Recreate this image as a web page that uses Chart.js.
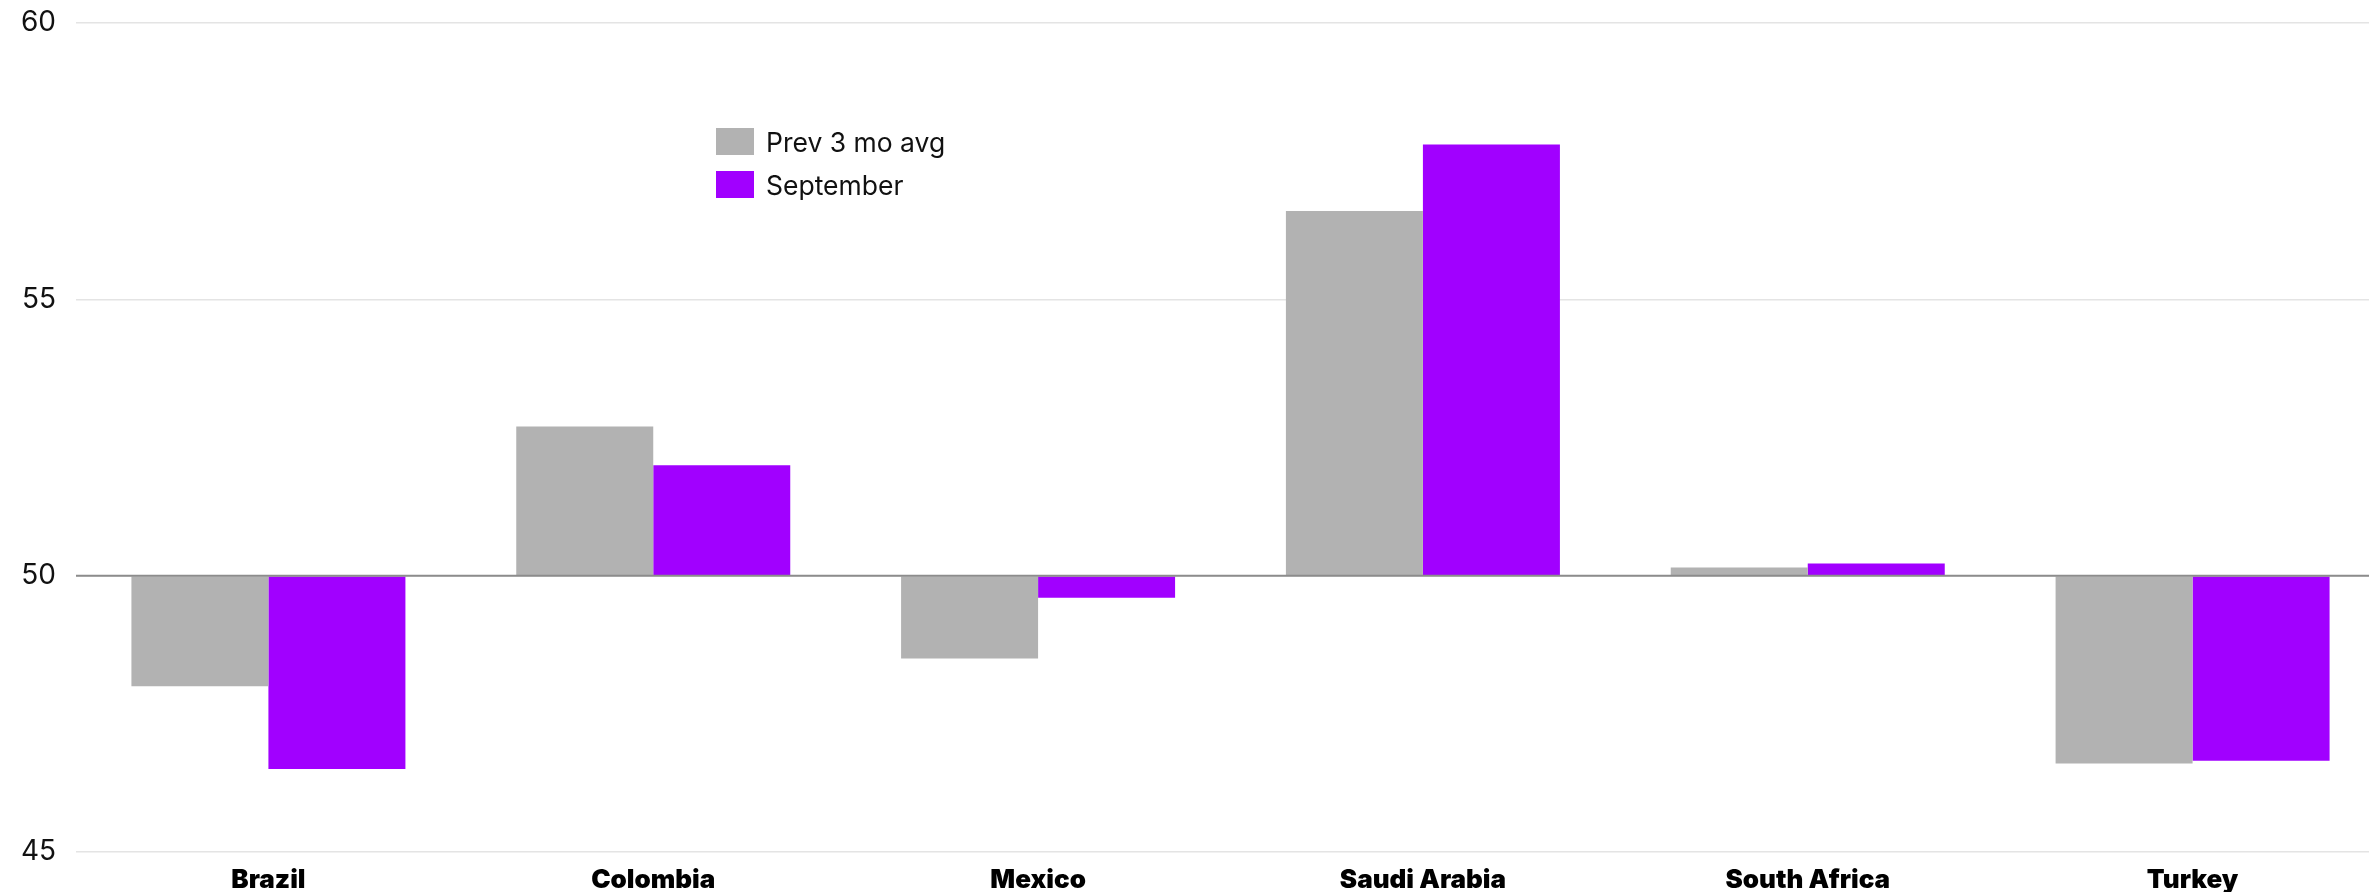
<!DOCTYPE html>
<html>
<head>
<meta charset="utf-8">
<script src="https://cdn.jsdelivr.net/npm/chart.js@4.4.1/dist/chart.umd.min.js"></script>
<style>
  html, body { margin: 0; padding: 0; background: #ffffff; overflow: hidden; }
  #wrap { position: absolute; left: 0; top: 0; width: 2385px; height: 892px; }
  #legend { position: absolute; left: 716px; top: 128px; font-family: Inter, "Noto Sans", sans-serif; font-size: 26.5px; color: #111; }
  .row { display: flex; align-items: center; height: 27px; margin-bottom: 16px; }
  .sw { width: 38px; height: 27px; margin-right: 12px; }
</style>
</head>
<body>
<div id="wrap"><canvas id="c" width="2385" height="892"></canvas></div>
<div id="legend"></div>
<script>
// PMI readings by country, 50 = no change
const countries = ["Brazil", "Colombia", "Mexico", "Saudi Arabia", "South Africa", "Turkey"];
const prev3MoAvg = [48.0, 52.7, 48.5, 56.6, 50.15, 46.6];
const september = [46.5, 52.0, 49.6, 57.8, 50.22, 46.65];
const seriesNames = ["Prev 3 mo avg", "September"];
const seriesColors = ["#b2b2b2", "#a100ff"];
const yTicks = [45, 50, 55, 60];
const neutral = 50;

// dark reference line at the neutral value, drawn over the bars
const neutralLine = {
  id: "neutralLine",
  afterDatasetsDraw(chart) {
    const y = chart.scales.y.getPixelForValue(neutral);
    const { left, right } = chart.chartArea;
    const ctx = chart.ctx;
    ctx.save();
    ctx.strokeStyle = "#8c8c8c";
    ctx.lineWidth = 2;
    ctx.beginPath();
    ctx.moveTo(left, y);
    ctx.lineTo(right, y);
    ctx.stroke();
    ctx.restore();
  }
};

const chart = new Chart(document.getElementById("c"), {
  type: "bar",
  data: {
    labels: countries,
    datasets: [
      { label: seriesNames[0], data: prev3MoAvg, backgroundColor: seriesColors[0], base: neutral },
      { label: seriesNames[1], data: september, backgroundColor: seriesColors[1], base: neutral }
    ]
  },
  options: {
    responsive: false,
    animation: false,
    layout: { padding: { top: 23, left: 0, right: 0, bottom: 0 } },
    datasets: { bar: { categoryPercentage: 0.712, barPercentage: 1.0 } },
    plugins: { legend: { display: false }, tooltip: { enabled: false } },
    scales: {
      x: {
        grid: { display: false, drawTicks: false },
        border: { display: false },
        ticks: {
          color: "#000",
          padding: 13,
          font: { family: "Inter, 'Noto Sans', sans-serif", size: 26, weight: 900 }
        },
        afterFit(scale) { scale.height = 40; }
      },
      y: {
        min: 45,
        max: 60,
        afterBuildTicks(scale) { scale.ticks = yTicks.map(v => ({ value: v })); },
        grid: { color: "#e4e4e4", lineWidth: 1.5, drawTicks: false },
        border: { display: false },
        ticks: {
          color: "#111",
          padding: 20,
          font: { family: "Inter, 'Noto Sans', sans-serif", size: 28 }
        },
        afterFit(scale) { scale.width = 76; scale.paddingTop = 0; scale.paddingBottom = 0; }
      }
    }
  },
  plugins: [neutralLine]
});

// legend built from the datasets
const legend = document.getElementById("legend");
chart.data.datasets.forEach(ds => {
  const row = document.createElement("div");
  row.className = "row";
  const sw = document.createElement("div");
  sw.className = "sw";
  sw.style.background = ds.backgroundColor;
  const txt = document.createElement("span");
  txt.textContent = ds.label;
  row.appendChild(sw);
  row.appendChild(txt);
  legend.appendChild(row);
});
</script>
</body>
</html>
